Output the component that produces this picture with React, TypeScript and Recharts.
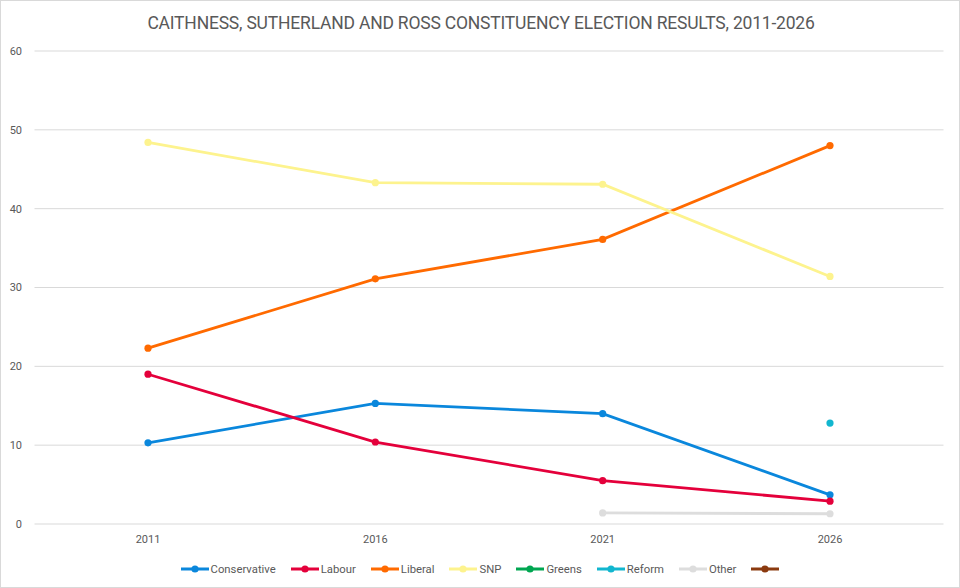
import React from 'react';
import { LineChart, Line, XAxis, YAxis, CartesianGrid, Legend } from 'recharts';

const years = ['2011', '2016', '2021', '2026'];
const conservative = [10.3, 15.3, 14.0, 3.7];
const labour = [19.0, 10.4, 5.5, 2.9];
const liberal = [22.3, 31.1, 36.1, 48.0];
const snp = [48.4, 43.3, 43.1, 31.4];
const greens: (number | null)[] = [null, null, null, null];
const reform: (number | null)[] = [null, null, null, 12.8];
const other: (number | null)[] = [null, null, 1.4, 1.3];
const unnamed: (number | null)[] = [null, null, null, null];
const yTicks = [0, 10, 20, 30, 40, 50, 60];

const title = 'CAITHNESS, SUTHERLAND AND ROSS CONSTITUENCY ELECTION RESULTS, 2011-2026';

const series = [
  { key: 'conservative', name: 'Conservative', values: conservative, color: '#0A87DC' },
  { key: 'labour', name: 'Labour', values: labour, color: '#E4003B' },
  { key: 'liberal', name: 'Liberal', values: liberal, color: '#FF6A00' },
  { key: 'snp', name: 'SNP', values: snp, color: '#FDF38E' },
  { key: 'greens', name: 'Greens', values: greens, color: '#00A651' },
  { key: 'reform', name: 'Reform', values: reform, color: '#12B6CF' },
  { key: 'other', name: 'Other', values: other, color: '#DDDDDD' },
  { key: 'unnamed', name: '', values: unnamed, color: '#8B3A0F' },
];

const data = years.map((year, i) => {
  const row: Record<string, any> = { year };
  series.forEach((s) => {
    row[s.key] = s.values[i];
  });
  return row;
});

const FONT = 'Roboto, "Liberation Sans", sans-serif';
const TEXT = '#595959';

const LegendContent = () => (
  <div
    style={{
      display: 'flex',
      justifyContent: 'center',
      alignItems: 'center',
      height: 24,
      fontFamily: FONT,
      fontSize: 11.3,
      color: TEXT,
    }}
  >
    {series.map((s, i) => (
      <div
        key={s.key}
        style={{ display: 'flex', alignItems: 'center', marginRight: i === series.length - 1 ? 0 : 15 }}
      >
        <svg width={28} height={10} style={{ display: 'block' }}>
          <line x1={0} y1={5} x2={28} y2={5} stroke={s.color} strokeWidth={3} />
          <circle cx={14} cy={5} r={3.6} fill={s.color} />
        </svg>
        {s.name ? <span style={{ marginLeft: 2 }}>{s.name}</span> : null}
      </div>
    ))}
  </div>
);

export default function App() {
  return (
    <div
      style={{
        position: 'absolute',
        left: 0,
        top: 0,
        width: 960,
        height: 588,
        background: '#fff',
        boxSizing: 'border-box',
        border: '1px solid #D9D9D9',
        overflow: 'hidden',
      }}
    >
      <div
        style={{
          position: 'absolute',
          left: 0,
          top: 12,
          width: 960,
          textAlign: 'center',
          fontFamily: FONT,
          fontSize: 17.5,
          letterSpacing: -0.2,
          color: TEXT,
          whiteSpace: 'nowrap',
        }}
      >
        {title}
      </div>
      <div style={{ position: 'absolute', left: -1, top: -1 }}>
        <LineChart
          width={960}
          height={588}
          data={data}
          margin={{ top: 51, right: 16.5, bottom: 7, left: 4.5 }}
        >
          <CartesianGrid vertical={false} stroke="#D9D9D9" strokeWidth={1} />
          <XAxis
            dataKey="year"
            axisLine={false}
            tickLine={false}
            padding={{ left: 113.5, right: 113.5 }}
            height={33}
            tickMargin={5}
            tick={{ fill: TEXT, fontSize: 11, fontFamily: FONT }}
          />
          <YAxis
            domain={[0, 60]}
            ticks={yTicks}
            axisLine={false}
            tickLine={false}
            width={30}
            tickMargin={6.5}
            tick={{ fill: TEXT, fontSize: 11, fontFamily: FONT }}
          />
          <Legend
            verticalAlign="bottom"
            height={24}
            wrapperStyle={{ left: 0, width: 960 }}
            content={() => <LegendContent />}
          />
          {series.map((s) => (
            <Line
              key={s.key}
              type="linear"
              dataKey={s.key}
              name={s.name}
              stroke={s.color}
              strokeWidth={2.8}
              dot={{ r: 3.6, fill: s.color, stroke: s.color, strokeWidth: 0 }}
              activeDot={false}
              connectNulls={false}
              isAnimationActive={false}
            />
          ))}
        </LineChart>
      </div>
    </div>
  );
}
